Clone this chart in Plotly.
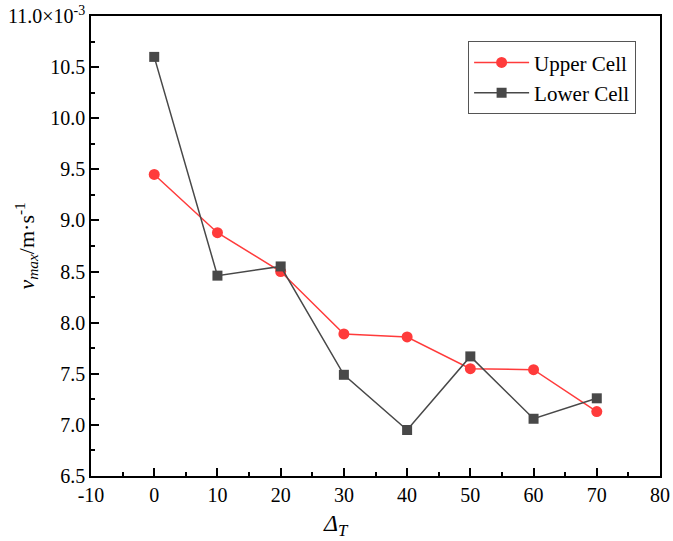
import plotly.graph_objects as go

delta_t = [0, 10, 20, 30, 40, 50, 60, 70]
upper_cell = [9.45, 8.88, 8.50, 7.89, 7.86, 7.55, 7.54, 7.13]
lower_cell = [10.60, 8.46, 8.55, 7.49, 6.95, 7.67, 7.06, 7.26]
y_tickvals = [6.5, 7.0, 7.5, 8.0, 8.5, 9.0, 9.5, 10.0, 10.5, 11.0]
y_ticktext = ["6.5", "7.0", "7.5", "8.0", "8.5", "9.0", "9.5", "10.0", "10.5", "11.0×10<sup>-3</sup>"]
x_tickvals = [-10, 0, 10, 20, 30, 40, 50, 60, 70, 80]
x_ticktext = ["-10", "0", "10", "20", "30", "40", "50", "60", "70", "80"]

font = "Times New Roman"

fig = go.Figure()
fig.add_trace(go.Scatter(x=delta_t, y=upper_cell, mode="lines+markers", name="Upper Cell",
                         line=dict(color="#FF3B3B", width=1.5),
                         marker=dict(symbol="circle", size=11, color="#FF3B3B")))
fig.add_trace(go.Scatter(x=delta_t, y=lower_cell, mode="lines+markers", name="Lower Cell",
                         line=dict(color="#484848", width=1.5),
                         marker=dict(symbol="square", size=10, color="#484848")))

axis_common = dict(showline=True, linecolor="black", linewidth=1.5, mirror=True,
                   ticks="inside", ticklen=8, tickwidth=1.5, tickcolor="black",
                   showgrid=False, zeroline=False, automargin=False,
                   tickfont=dict(family=font, size=20, color="black"))

fig.update_xaxes(range=[-10, 80], tickvals=x_tickvals, ticktext=x_ticktext,
                 minor=dict(ticks="inside", ticklen=4, tickwidth=1.5, tickcolor="black", dtick=5, tick0=-10),
                 **axis_common)
fig.update_yaxes(range=[6.5, 11.0], tickvals=y_tickvals, ticktext=y_ticktext,
                 minor=dict(ticks="inside", ticklen=4, tickwidth=1.5, tickcolor="black", dtick=0.25, tick0=6.5),
                 **axis_common)

fig.add_annotation(text="<i>Δ<sub>T</sub></i>", xref="paper", yref="paper", x=0.43, y=-0.07,
                   xanchor="center", yanchor="top", showarrow=False,
                   font=dict(family=font, size=24, color="black"))
fig.add_annotation(text="<i>v<sub>max</sub></i>/m·s<sup>-1</sup>", xref="paper", yref="paper",
                   x=-0.115, y=0.5, xanchor="center", yanchor="middle", textangle=-90, showarrow=False,
                   font=dict(family=font, size=22, color="black"))

fig.update_layout(width=673, height=541, plot_bgcolor="white", paper_bgcolor="white",
                  margin=dict(l=91, r=13, t=16, b=65),
                  legend=dict(x=0.958, y=0.945, xanchor="right", yanchor="top",
                              bordercolor="#555", borderwidth=1, bgcolor="white",
                              font=dict(family=font, size=21, color="black"),
                              tracegroupgap=0, itemwidth=55))
fig.write_html("out.html")
